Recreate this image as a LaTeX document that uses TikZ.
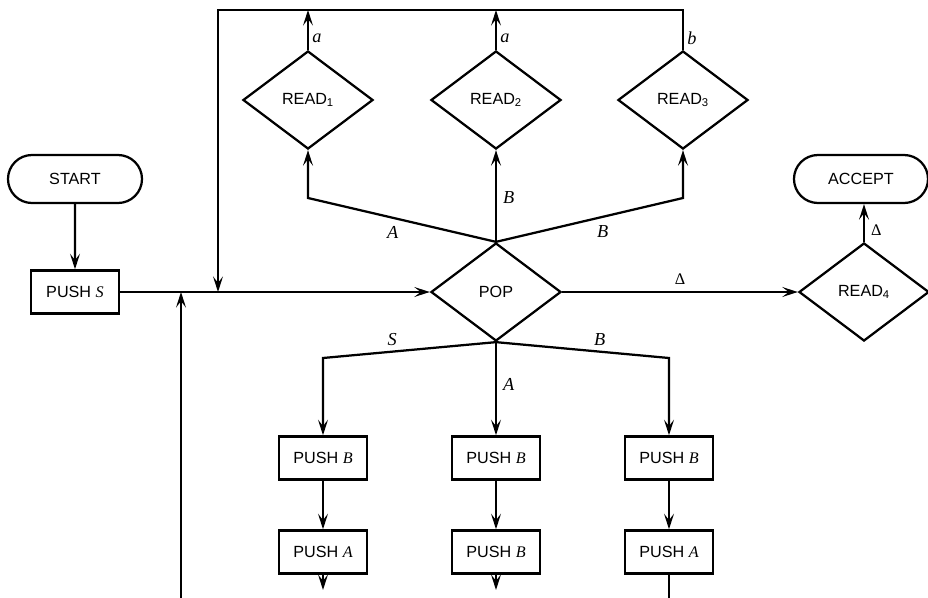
\documentclass[tikz,border=0pt]{standalone}
\usepackage{fontspec}
\setmainfont{Liberation Serif}
\setsansfont{Liberation Sans}
\usepackage{tikz}
\usetikzlibrary{arrows.meta,positioning,shapes.geometric,shapes.misc}
\tikzset{
  % flowchart nodes
  termbox/.style={rounded rectangle,draw,line width=1.6pt,minimum width=3.35cm,minimum height=1.2cm,inner sep=0pt},
  pushbox/.style={rectangle,draw,line width=1.6pt,minimum width=2.2cm,minimum height=1.08cm,inner sep=0pt},
  decide/.style={diamond,draw,line width=1.6pt,minimum width=3.25cm,minimum height=2.45cm,inner sep=0pt},
  % connectors
  flow/.style={line width=1.6pt,-{Stealth[length=11pt,width=7pt,inset=4.5pt]}},
  plain/.style={line width=1.6pt},
  % edge labels
  elbl/.style={font=\rmfamily\itshape\fontsize{13}{15}\selectfont},
  dlbl/.style={font=\rmfamily\fontsize{11.5}{13}\selectfont},
}
\newcommand{\var}[1]{{\rmfamily\itshape #1}}

\begin{document}
\begin{tikzpicture}[
  x=0.025cm,y=-0.025cm,
  every node/.style={font=\sffamily\fontsize{11.5}{13}\selectfont},
]
\useasboundingbox (0,0) rectangle (928,598);
%% ===== rows and columns =====
\def\ytop{10} \def\yread{100} \def\ykink{198} \def\ymain{292}
\def\ybend{358} \def\yrowA{458} \def\yrowB{552} \def\ybot{598}

%% ===== nodes =====
\node[termbox] (start)  at (75,179)  {START};
\node[pushbox] (pushS)  at (75,\ymain) {PUSH \var{S}};
\node[decide]  (pop)    at (496,\ymain) {POP};
\node[decide]  (readA)  at (308,\yread) {READ\textsubscript{1}};
\node[decide]  (readB)  at (496,\yread) {READ\textsubscript{2}};
\node[decide]  (readC)  at (683,\yread) {READ\textsubscript{3}};
\node[decide]  (readD)  at (864,\ymain) {READ\textsubscript{4}};
\node[termbox] (accept) at (861,179) {ACCEPT};

\node[pushbox] (sB) at (323,\yrowA) {PUSH \var{B}};
\node[pushbox] (sA) at (323,\yrowB) {PUSH \var{A}};
\node[pushbox] (aB) at (496,\yrowA) {PUSH \var{B}};
\node[pushbox] (aC) at (496,\yrowB) {PUSH \var{B}};
\node[pushbox] (bB) at (669,\yrowA) {PUSH \var{B}};
\node[pushbox] (bA) at (669,\yrowB) {PUSH \var{A}};

%% ===== helper points =====
\coordinate (tl) at (218,\ytop);
\coordinate (tr) at (683,\ytop);
\coordinate (kA) at (308,\ykink);
\coordinate (kC) at (683,\ykink);
\coordinate (kS) at (323,\ybend);
\coordinate (kB) at (669,\ybend);
\coordinate (ret) at (181,\ybot);
\coordinate (endS) at (323,590);
\coordinate (endA) at (496,590);
\coordinate (endB) at (669,\ybot);

%% ===== start / main line =====
\draw[flow] (start) -- (pushS);
\draw[flow] (pushS) -- (pop);
\draw[flow] (ret) -- (ret |- pop.west);

%% ===== read loop at the top =====
\draw[flow] (readA.north) -- node[elbl,right=-1pt,pos=0.3]{a} (readA.north |- tl);
\draw[flow] (readB.north) -- node[elbl,right=-1pt,pos=0.3]{a} (readB.north |- tl);
\draw[flow] (readC.north) -- node[elbl,right=-1pt,pos=0.3]{b} (tr) -- (tl) -- (tl |- pop.west);

%% ===== pop to reads =====
\draw[flow] (pop.north) -- node[elbl,below=2pt,pos=0.55]{A} (kA) -- (readA.south);
\draw[flow] (pop.north) -- node[elbl,right=1pt,pos=0.48]{B} (readB.south);
\draw[flow] (pop.north) -- node[elbl,below=2pt,pos=0.57]{B} (kC) -- (readC.south);

%% ===== pop to accept =====
\draw[flow] (pop.east) -- node[dlbl,above=1pt,pos=0.5]{Δ} (readD.west);
\draw[flow] (readD.north) -- node[dlbl,right=1pt,pos=0.3]{Δ} (accept.south -| readD.north);

%% ===== pop to pushes =====
\draw[flow] (pop.south) -- node[elbl,above=0pt,pos=0.6]{S} (kS) -- (sB.north);
\draw[flow] (pop.south) -- node[elbl,right=1pt,pos=0.45]{A} (aB.north);
\draw[flow] (pop.south) -- node[elbl,above=0pt,pos=0.6]{B} (kB) -- (bB.north);
\draw[flow] (sB) -- (sA);
\draw[flow] (aB) -- (aC);
\draw[flow] (bB) -- (bA);
\draw[flow] (sA) -- (endS);
\draw[flow] (aC) -- (endA);
\draw[plain] (bA) -- (endB);
\end{tikzpicture}
\end{document}
